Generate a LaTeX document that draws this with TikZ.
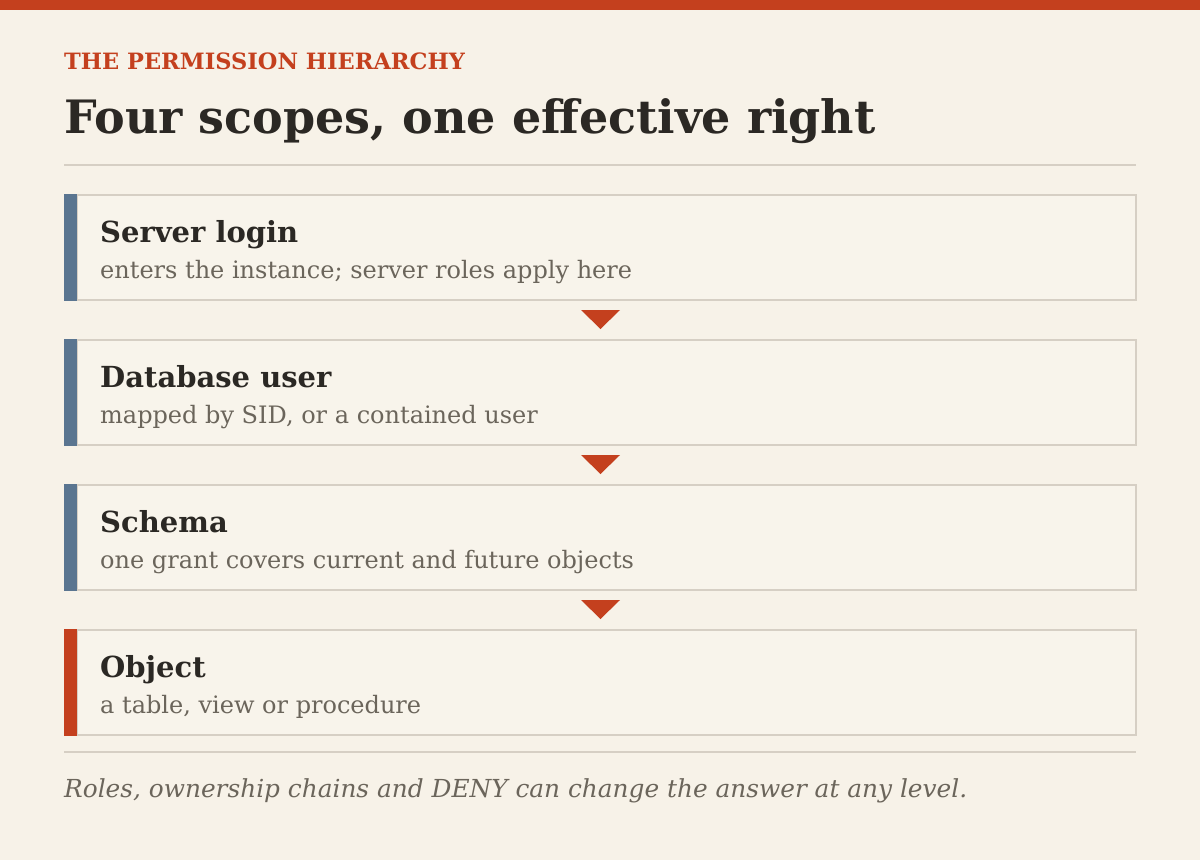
\documentclass[tikz,border=0pt]{standalone}
\usepackage{fontspec}
\setmainfont{DejaVu Serif}
\definecolor{bg}{HTML}{F7F2E8}
\definecolor{boxfill}{HTML}{F8F4EB}
\definecolor{accent}{HTML}{C4401E}
\definecolor{slate}{HTML}{5A7590}
\definecolor{rulec}{HTML}{D6CFC4}
\definecolor{ink}{HTML}{2B2824}
\definecolor{muted}{HTML}{6B655B}
\tikzset{
  px/.style={x=1pt,y=-1pt},
  levelbox/.style={draw=rulec, line width=2pt, fill=boxfill},
  kicker/.style={anchor=base west, inner sep=0pt, text=accent, font=\bfseries\fontsize{22.5}{27}\selectfont},
  headline/.style={anchor=base west, inner sep=0pt, text=ink, font=\bfseries\fontsize{46}{54}\selectfont},
  lvltitle/.style={anchor=base west, inner sep=0pt, text=ink, font=\bfseries\fontsize{29}{34}\selectfont},
  lvlsub/.style={anchor=base west, inner sep=0pt, text=muted, font=\fontsize{24}{28}\selectfont},
  footnote/.style={anchor=base west, inner sep=0pt, text=muted, font=\itshape\fontsize{24.8}{30}\selectfont},
  arrowtri/.style={fill=accent, draw=none},
}
\begin{document}
\begin{tikzpicture}[px]
\useasboundingbox (0,0) rectangle (1200,860);
\fill[bg] (0,0) rectangle (1200,860);
\fill[accent] (0,0) rectangle (1200,10);
\node[kicker] (kick) at (64,69) {THE PERMISSION HIERARCHY};
\node[headline] (head) at (64,133) {Four scopes, one effective right};
\draw[rulec, line width=2pt] (64,164.5) -- (1136,164.5);
% boxes
\foreach \i/\top/\bar/\ttl/\sub in {
  1/195/slate/Server login/{enters the instance; server roles apply here},
  2/340/slate/Database user/{mapped by SID, or a contained user},
  3/485/slate/Schema/{one grant covers current and future objects},
  4/630/accent/Object/{a table, view or procedure}} {
  \draw[levelbox] (77,\top) rectangle (1136,\top+105);
  \fill[\bar] (64,\top-1) rectangle (77,\top+106);
  \node[lvltitle] (t\i) at (100,\top+47) {\ttl};
  \node[lvlsub] (s\i) at (100,\top+83) {\sub};
}
\foreach \y in {310,455,600} {
  \fill[arrowtri] (581,\y) -- (620,\y) -- (600.5,\y+19) -- cycle;
}
\draw[rulec, line width=2pt] (64,751.5) -- (1136,751.5);
\node[footnote] (foot) at (64,797) {Roles, ownership chains and DENY can change the answer at any level.};
\end{tikzpicture}
\end{document}
